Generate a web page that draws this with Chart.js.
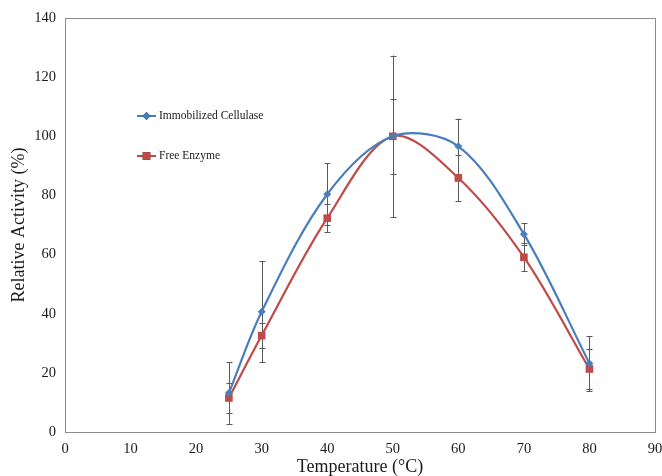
<!DOCTYPE html>
<html>
<head>
<meta charset="utf-8">
<script src="https://cdn.jsdelivr.net/npm/chart.js@4/dist/chart.umd.min.js"></script>
<style>
  html, body { margin: 0; padding: 0; background: #ffffff; }
  #wrap { width: 662px; height: 476px; position: relative; }
</style>
</head>
<body>
<div id="wrap"><canvas id="chart"></canvas></div>
<script>
// Relative activity of cellulase versus temperature
const temperatures = [25, 30, 40, 50, 60, 70, 80];
const immobilizedActivity = [13.2, 40.7, 80.4, 100, 96.6, 66.9, 23.2];
const immobilizedError = [10.4, 17.0, 10.5, 27.3, 9.4, 3.7, 9.3];
const freeActivity = [11.5, 32.6, 72.3, 100, 85.9, 59.1, 21.3];
const freeError = [5.0, 4.2, 4.8, 12.7, 7.9, 4.7, 6.7];
const seriesNames = ['Immobilized Cellulase', 'Free Enzyme'];
const xTickValues = [0, 10, 20, 30, 40, 50, 60, 70, 80, 90];
const yTickValues = [0, 20, 40, 60, 80, 100, 120, 140];
const xTitle = 'Temperature (\u00B0C)';
const yTitle = 'Relative Activity (%)';

const SERIF = '"Liberation Serif", "Times New Roman", serif';
const BLUE = '#4a7ebb';
const RED = '#be4b48';

function toPoints(xs, ys) {
  return xs.map((x, i) => ({ x: x, y: ys[i] }));
}

// Vertical error bars with caps, drawn under the lines
const errorBars = {
  id: 'errorBars',
  beforeDatasetsDraw(chart) {
    const { ctx, scales: { x, y } } = chart;
    ctx.save();
    ctx.strokeStyle = '#5a5a5a';
    ctx.lineWidth = 1;
    chart.data.datasets.forEach(ds => {
      ds.data.forEach((p, i) => {
        const e = ds.errors[i];
        const px = Math.round(x.getPixelForValue(p.x)) + 0.5;
        const top = y.getPixelForValue(p.y + e);
        const bot = y.getPixelForValue(p.y - e);
        ctx.beginPath();
        ctx.moveTo(px, top);
        ctx.lineTo(px, bot);
        ctx.moveTo(px - 3, Math.round(top) + 0.5);
        ctx.lineTo(px + 3, Math.round(top) + 0.5);
        ctx.moveTo(px - 3, Math.round(bot) + 0.5);
        ctx.lineTo(px + 3, Math.round(bot) + 0.5);
        ctx.stroke();
      });
    });
    ctx.restore();
  }
};

// Box around the plotting area
const plotFrame = {
  id: 'plotFrame',
  beforeDatasetsDraw(chart) {
    const { ctx, chartArea: a } = chart;
    ctx.save();
    ctx.strokeStyle = '#8c8c8c';
    ctx.lineWidth = 1;
    ctx.strokeRect(Math.round(a.left) + 0.5, Math.round(a.top) + 0.5,
                   Math.round(a.right - a.left), Math.round(a.bottom - a.top));
    ctx.restore();
  }
};

// Legend entries placed inside the plot, upper left
const innerLegend = {
  id: 'innerLegend',
  afterDraw(chart) {
    const { ctx, chartArea: a } = chart;
    ctx.save();
    chart.data.datasets.forEach((ds, i) => {
      const x0 = a.left + 72;
      const yc = a.top + 98 + i * 40;
      ctx.strokeStyle = ds.borderColor;
      ctx.lineWidth = 2;
      ctx.beginPath();
      ctx.moveTo(x0, yc);
      ctx.lineTo(x0 + 19, yc);
      ctx.stroke();
      Chart.helpers.drawPoint(ctx, {
        pointStyle: ds.pointStyle,
        radius: ds.pointRadius,
        rotation: 0,
        borderWidth: 0
      }, x0 + 9.5, yc);
      ctx.fillStyle = ds.backgroundColor;
      ctx.fill();
      ctx.fillStyle = '#1a1a1a';
      ctx.font = '11.5px ' + SERIF;
      ctx.textBaseline = 'middle';
      ctx.textAlign = 'left';
      ctx.fillText(ds.label, x0 + 22, yc);
    });
    ctx.restore();
  }
};

new Chart(document.getElementById('chart'), {
  type: 'line',
  data: {
    datasets: [
      {
        label: seriesNames[0],
        data: toPoints(temperatures, immobilizedActivity),
        errors: immobilizedError,
        borderColor: BLUE,
        backgroundColor: BLUE,
        borderWidth: 2.2,
        pointStyle: 'rectRot',
        pointRadius: 4,
        pointBorderWidth: 0,
        tension: 0.33,
        fill: false
      },
      {
        label: seriesNames[1],
        data: toPoints(temperatures, freeActivity),
        errors: freeError,
        borderColor: RED,
        backgroundColor: RED,
        borderWidth: 2.2,
        pointStyle: 'rect',
        pointRadius: 5.4,
        pointBorderWidth: 0,
        tension: 0.33,
        fill: false
      }
    ]
  },
  options: {
    responsive: true,
    maintainAspectRatio: false,
    animation: false,
    layout: { padding: { top: 18, right: 7, left: 0, bottom: 0 } },
    plugins: {
      legend: { display: false },
      tooltip: { enabled: false }
    },
    scales: {
      x: {
        type: 'linear',
        min: xTickValues[0],
        max: xTickValues[xTickValues.length - 1],
        afterBuildTicks(scale) { scale.ticks = xTickValues.map(v => ({ value: v })); },
        afterFit(scale) {
          scale.height = 44;
          scale.paddingLeft = 0;
          scale.paddingRight = 0;
        },
        grid: { display: false, drawTicks: false },
        border: { display: false },
        ticks: { color: '#1a1a1a', font: { family: SERIF, size: 14.5 }, padding: 8, maxRotation: 0 },
        title: { display: true, text: xTitle, color: '#1a1a1a', font: { family: SERIF, size: 18, lineHeight: 1.0 }, padding: { top: 0, bottom: 0 } }
      },
      y: {
        type: 'linear',
        min: yTickValues[0],
        max: yTickValues[yTickValues.length - 1],
        afterBuildTicks(scale) { scale.ticks = yTickValues.map(v => ({ value: v })); },
        afterFit(scale) {
          scale.width = 65;
          scale.paddingTop = 0;
          scale.paddingBottom = 0;
        },
        grid: { display: false, drawTicks: false },
        border: { display: false },
        ticks: { color: '#1a1a1a', font: { family: SERIF, size: 14.5 }, padding: 9 },
        title: { display: true, text: yTitle, color: '#1a1a1a', font: { family: SERIF, size: 18 }, padding: { top: 8, bottom: 0 } }
      }
    }
  },
  plugins: [plotFrame, errorBars, innerLegend]
});
</script>
</body>
</html>
